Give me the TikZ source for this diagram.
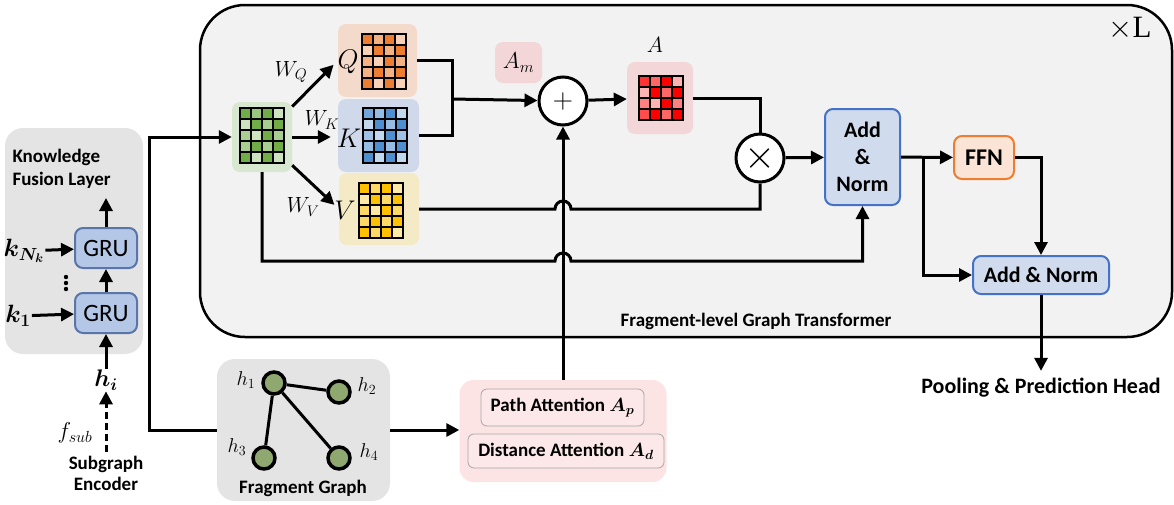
\RequirePackage{fix-cm}
\documentclass[tikz,border=0pt]{standalone}
\usepackage{bm}
\usepackage{fontspec}
\setmainfont{Carlito}
\newfontfamily\serifup{Liberation Serif}
\usetikzlibrary{arrows.meta,calc}

\definecolor{bggray}{HTML}{F2F2F2}
\definecolor{boxgray}{HTML}{E4E4E4}
\definecolor{grufill}{HTML}{B4C7E7}
\definecolor{grublue}{HTML}{5A76A8}
\definecolor{normfill}{HTML}{D0DBEE}
\definecolor{normblue}{HTML}{4472C4}
\definecolor{ffnfill}{HTML}{FBE3D6}
\definecolor{ffnorange}{HTML}{ED7D31}
\definecolor{tilegreen}{HTML}{D8E7CF}
\definecolor{tileorange}{HTML}{F4DACB}
\definecolor{tileblue}{HTML}{D0D9EA}
\definecolor{tileyellow}{HTML}{F5EAC6}
\definecolor{tilered}{HTML}{F3D6D8}
\definecolor{attpink}{HTML}{FDE4E4}
\definecolor{attinner}{HTML}{FCE8E8}
\definecolor{matgreen}{HTML}{70AD47}
\definecolor{matorange}{HTML}{ED7D31}
\definecolor{matblue}{HTML}{4F8FD0}
\definecolor{matyellow}{HTML}{FFC000}
\definecolor{matred}{HTML}{FF0000}
\definecolor{nodegreen}{HTML}{8FA870}

\newcommand{\cellgrid}[3]{%
  \foreach \row [count=\i] in {#3}{
    \foreach \v [count=\j] in \row{
      \filldraw[fill=#2!\v!white, draw=black, line width=1.6pt] ($(#1)+(\j*11-11,\i*11-11)$) rectangle ++(11,11);
    }}}

\begin{document}
\begin{tikzpicture}[x=1pt,y=-1pt,
  ln/.style={line width=3pt},
  arr/.style={line width=3pt,-{Triangle[length=13pt,width=13pt]}},
  tile/.style={rounded corners=8pt,inner sep=0pt},
  blk/.style={draw=#1,line width=2pt,rounded corners=8pt,inner sep=0pt},
  op/.style={circle,draw,line width=3pt,fill=white,minimum size=48pt,inner sep=0pt},
  gnode/.style={circle,draw,line width=3.5pt,fill=nodegreen,minimum size=22pt,inner sep=0pt},
  lbl/.style={font=\fontsize{19}{22}\selectfont\bfseries},
  mlbl/.style={font=\fontsize{22}{26}\selectfont,inner sep=1pt}]

  \useasboundingbox (0,0) rectangle (1174,504);

  \node[tile,draw,line width=2.5pt,fill=bggray,minimum width=972pt,minimum height=332pt,rounded corners=45pt] (gt) at (686,171) {};
  \node[font=\fontsize{31}{34}\selectfont] (rep) at (1130,29) {$\times$\serifup L};
  \node[lbl] (gtname) at (756,321) {Fragment-level Graph Transformer};

  \node[tile,fill=boxgray,minimum width=138pt,minimum height=226pt,rounded corners=18pt] (kfl) at (74,241) {};
  \node[lbl,font=\fontsize{19}{23}\selectfont\bfseries,align=left,anchor=west] (kfltxt) at (9,169) {Knowledge\\Fusion Layer};
  \node[blk=grublue,fill=grufill,minimum width=62pt,minimum height=40pt,font=\fontsize{25}{28}\selectfont] (gru2) at (106,248) {GRU};
  \node[blk=grublue,fill=grufill,minimum width=62pt,minimum height=40pt,font=\fontsize{25}{28}\selectfont] (gru1) at (106,313) {GRU};
  \coordinate (kflout) at (106,198);
  \node[mlbl,font=\fontsize{25}{28}\selectfont] (kn) at (24,251) {$\bm{k_{N_k}}$};
  \node[mlbl,font=\fontsize{25}{28}\selectfont] (k1) at (18,316) {$\bm{k_1}$};
  \foreach \d in {0,6,12} \fill (66,277+\d) circle (2.2pt);
  \node[mlbl,font=\fontsize{24}{28}\selectfont] (hi) at (106,380) {$\bm{h_i}$};
  \node[mlbl,font=\fontsize{23}{26}\selectfont] (fsub) at (75,433) {$f_{sub}$};
  \node[lbl,font=\fontsize{19}{21}\selectfont\bfseries,align=center] (enc) at (106,473) {Subgraph\\Encoder};

  \draw[arr] (gru2) -- (kflout);
  \draw[arr] (gru1) -- (gru2);
  \draw[arr] (hi) -- (gru1);
  \draw[arr,dash pattern=on 7pt off 4pt] (enc) -- (hi);
  \draw[arr] (kn) -- (gru2);
  \draw[arr] (k1) -- (gru1);

  \node[tile,fill=tilegreen,minimum width=60pt,minimum height=70pt] (X) at (262,137) {};
  \cellgrid{240,108}{matgreen}{{100,70,100,35},{35,100,60,100},{60,35,100,60},{60,100,60,100},{100,35,100,35}}
  \node[tile,fill=tileorange,minimum width=79pt,minimum height=73pt] (Qt) at (377.5,60.5) {};
  \cellgrid{362,34}{matorange}{{100,60,100,35},{35,100,60,100},{60,35,100,60},{60,100,60,100},{100,35,100,35}}
  \node[tile,fill=tileblue,minimum width=81pt,minimum height=73pt] (Kt) at (378.5,135.5) {};
  \cellgrid{363,108}{matblue}{{80,60,100,35},{35,100,60,100},{55,35,100,55},{60,100,60,100},{100,35,100,35}}
  \node[tile,fill=tileyellow,minimum width=80pt,minimum height=72pt] (Vt) at (379,209) {};
  \cellgrid{359,183}{matyellow}{{100,60,100,35},{35,100,60,100},{60,35,100,60},{60,100,60,100},{100,60,100,35}}
  \node[font=\fontsize{27}{30}\selectfont] (Ql) at (348,62) {$Q$};
  \node[font=\fontsize{27}{30}\selectfont] (Kl) at (349,138) {$K$};
  \node[font=\fontsize{27}{30}\selectfont] (Vl) at (345,210) {$V$};
  \node[mlbl] (wq) at (291,72) {$W_Q$};
  \node[mlbl] (wk) at (322,120) {$W_K$};
  \node[mlbl] (wv) at (303,207) {$W_V$};

  \draw[arr,shorten >=6pt] (X) -- (Qt.west);
  \draw[arr,shorten >=7pt] (X.east) -- (X.east -| Kt.west);
  \draw[arr,shorten >=6pt] (X) -- (Vt.west);

  \node[op,font=\fontsize{28}{28}\selectfont] (plus) at (563,101) {$+$};
  \node[tile,fill=tilered,minimum width=47pt,minimum height=41pt,font=\fontsize{23}{26}\selectfont] (Am) at (518.5,62.5) {$A_m$};
  \node[tile,fill=tilered,minimum width=66pt,minimum height=72pt] (At) at (660,98) {};
  \cellgrid{639,76}{matred}{{80,60,100,30},{30,100,60,100},{50,30,100,50},{70,100,60,100}}
  \node[font=\fontsize{22}{26}\selectfont] (Al) at (655,45) {$A$};
  \node[op,font=\fontsize{40}{40}\selectfont] (times) at (760,158) {$\times$};

  \coordinate (mrg) at (452,99);
  \draw[ln] (Qt.east) -| (mrg) |- (Kt.east);
  \draw[arr] (mrg) -- (plus);
  \draw[arr] (plus) -- (At);
  \draw[ln] (At) -| (times);
  \coordinate (hopv) at (plus |- Vt.east);
  \coordinate (hopr) at (563,261);
  \draw[ln] (Vt.east) -- ($(hopv)+(-8,0)$) arc[start angle=180,end angle=0,radius=8pt] -| (times);

  \node[blk=normblue,fill=normfill,minimum width=75pt,minimum height=96pt,align=center,font=\fontsize{22}{27}\selectfont\bfseries] (an1) at (862.5,157) {Add\\\&\\Norm};
  \node[blk=ffnorange,fill=ffnfill,minimum width=60pt,minimum height=43pt,font=\fontsize{24}{28}\selectfont\bfseries] (ffn) at (984,157.5) {FFN};
  \node[blk=normblue,fill=normfill,minimum width=136pt,minimum height=38pt,font=\fontsize{22}{26}\selectfont\bfseries] (an2) at (1041,275) {Add \& Norm};
  \node[font=\fontsize{22}{26}\selectfont\bfseries] (pool) at (1041,388) {Pooling \& Prediction Head};
  \coordinate (br) at (923,157);

  \draw[arr] (X) |- ($(hopr)+(-8,0)$) arc[start angle=180,end angle=0,radius=8pt] -| (an1);
  \draw[arr] (times) -- (an1);
  \draw[arr] (an1) -- (ffn);
  \draw[arr] (br) |- (an2);
  \draw[arr] (ffn) -| (an2);
  \draw[arr,shorten >=4pt] (an2) -- (pool);

  \node[tile,fill=boxgray,minimum width=173pt,minimum height=142pt,rounded corners=18pt] (fg) at (303.5,430) {};
  \node[gnode] (g1) at (274,383) {};
  \node[gnode] (g2) at (339,392) {};
  \node[gnode] (g3) at (264,458) {};
  \node[gnode] (g4) at (339,458) {};
  \draw[line width=3pt] (g1) -- (g2) (g1) -- (g3) (g1) -- (g4);
  \node[font=\fontsize{20}{22}\selectfont] (h1) at (246,380) {$h_1$};
  \node[font=\fontsize{20}{22}\selectfont] (h2) at (367,386) {$h_2$};
  \node[font=\fontsize{20}{22}\selectfont] (h3) at (237,447) {$h_3$};
  \node[font=\fontsize{20}{22}\selectfont] (h4) at (369,452) {$h_4$};
  \node[lbl] (fgname) at (303,488) {Fragment Graph};

  \node[tile,fill=attpink,minimum width=207pt,minimum height=102pt,rounded corners=14pt] (att) at (563,431) {};
  \node[lbl,draw=gray!70,line width=0.8pt,fill=attinner,rounded corners=6pt,minimum width=163pt,minimum height=37pt,inner sep=0pt] (pa) at (562.5,407.5) {Path Attention $\bm{A_p}$};
  \node[lbl,draw=gray!70,line width=0.8pt,fill=attinner,rounded corners=6pt,minimum width=196pt,minimum height=34pt,inner sep=0pt] (da) at (566,451) {Distance Attention $\bm{A_d}$};

  \draw[arr] (fg.east) -- (fg.east -| att.west);
  \draw[arr] (att) -- (plus);
  \draw[arr] (fg.west) -- ++(-67,0) |- (X.west);

\end{tikzpicture}
\end{document}
